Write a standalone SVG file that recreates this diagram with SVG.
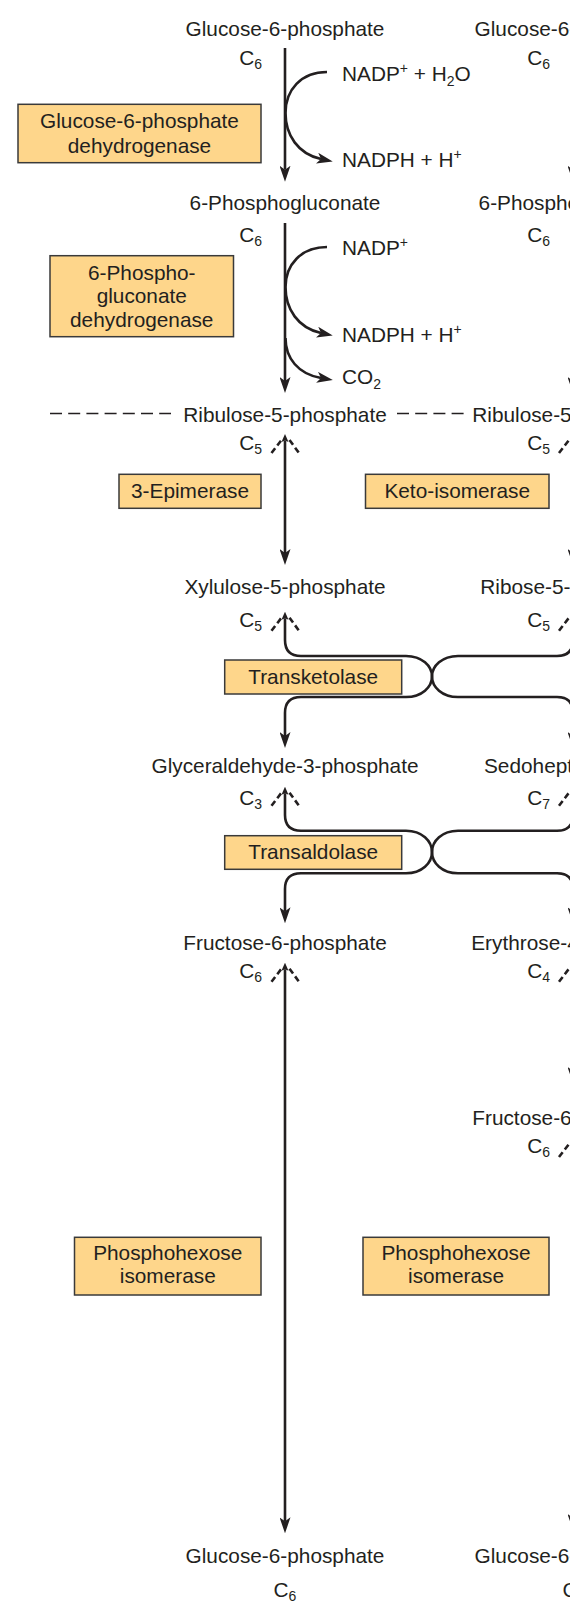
<svg xmlns="http://www.w3.org/2000/svg" width="570" height="1621" viewBox="0 0 570 1621">
<style>
.t{font-family:"Liberation Sans",Arial,Helvetica,sans-serif;font-size:20.8px;fill:#231f20}
.m{text-anchor:middle}
.e{text-anchor:end}
.s{font-size:14px}
.box{fill:#fed68b;stroke:#3a3a3a;stroke-width:1.5}
.ln{fill:none;stroke:#231f20;stroke-width:2.6}
.dsh{fill:none;stroke:#231f20;stroke-width:2.6;stroke-dasharray:6 3.5}
.dl{fill:none;stroke:#231f20;stroke-width:1.4;stroke-dasharray:12 6.2}
</style>
<defs>
<marker id="ah" viewBox="0 0 16 11" markerWidth="16" markerHeight="11" refX="4" refY="5.5" orient="auto" markerUnits="userSpaceOnUse">
<path d="M0,0 L16,5.5 L0,11 L4,5.5 Z" fill="#231f20"/>
</marker>
<marker id="as" viewBox="0 0 8 7" markerWidth="8" markerHeight="7" refX="1.5" refY="3.5" orient="auto-start-reverse" markerUnits="userSpaceOnUse">
<path d="M0,0 L8,3.5 L0,7 L1.5,3.5 Z" fill="#231f20"/>
</marker>
<g id="chev"><path class="dsh" d="M-14,19 L-4,6 M4,6 L13.5,19"/></g>
</defs>

<g id="connectors">
<path class="ln" d="M285,48 V169.7" marker-end="url(#ah)"/>
<path class="ln" d="M327,72 C301,72 285.5,90 285.5,113 C285.5,135 298,154 321,159" marker-end="url(#ah)"/>
<path class="ln" d="M285,223 V381" marker-end="url(#ah)"/>
<path class="ln" d="M327,247 C301,247 285.5,265 285.5,287 C285.5,309 298,328 321,333" marker-end="url(#ah)"/>
<path class="ln" d="M285.5,338 C285.5,358 298,374 321,378" marker-end="url(#ah)"/>
<path class="ln" d="M285,440.5 V553" marker-start="url(#as)" marker-end="url(#ah)"/>
<path class="ln" d="M285,618.2 V640 Q285,656 301,656 H406 C422,656 432,666 432,676.5 C432,687 422,697 406,697 H301 Q285,697 285,713 V736" marker-start="url(#as)" marker-end="url(#ah)"/>
<path class="ln" d="M285,793.2 V815 Q285,830.7 301,830.7 H406 C422,830.7 432,841 432,852 C432,863 422,873.3 406,873.3 H301 Q285,873.3 285,889 V911.3" marker-start="url(#as)" marker-end="url(#ah)"/>
<path class="ln" d="M285,969.2 V1521.3" marker-start="url(#as)" marker-end="url(#ah)"/>
<use href="#chev" x="285.5" y="434"/>
<use href="#chev" x="285.5" y="611.7"/>
<use href="#chev" x="285.5" y="786.7"/>
<use href="#chev" x="285.5" y="962.7"/>
<path class="dl" d="M50,413.5 H171"/>
<path class="dl" d="M397,413.5 H464"/>
<path class="ln" d="M573,48 V169.7" marker-end="url(#ah)"/>
<path class="ln" d="M573,223 V381" marker-end="url(#ah)"/>
<path class="ln" d="M573,440.5 V553" marker-start="url(#as)" marker-end="url(#ah)"/>
<path class="ln" d="M573,618.2 V640 Q573,656 557,656 H458 C442,656 432,666 432,676.5 C432,687 442,697 458,697 H557 Q573,697 573,713 V736" marker-start="url(#as)" marker-end="url(#ah)"/>
<path class="ln" d="M573,793.2 V815 Q573,830.7 557,830.7 H458 C442,830.7 432,841 432,852 C432,863 442,873.3 458,873.3 H557 Q573,873.3 573,889 V911.3" marker-start="url(#as)" marker-end="url(#ah)"/>
<path class="ln" d="M573,969.2 V1071" marker-start="url(#as)" marker-end="url(#ah)"/>
<path class="ln" d="M573,1144.5 V1518" marker-start="url(#as)" marker-end="url(#ah)"/>
<use href="#chev" x="573" y="434"/>
<use href="#chev" x="573" y="611.7"/>
<use href="#chev" x="573" y="786.7"/>
<use href="#chev" x="573" y="962.7"/>
<use href="#chev" x="573" y="1138"/>
</g>

<g id="g6p-top">
<text class="t m" x="285" y="36">Glucose-6-phosphate</text>
<text class="t e" x="262" y="65">C<tspan class="s" dy="4">6</tspan></text>
</g>
<g id="cofactors-1">
<text class="t" x="342" y="81">NADP<tspan class="s" dy="-8">+</tspan><tspan dy="8"> + H</tspan><tspan class="s" dy="5">2</tspan><tspan dy="-5">O</tspan></text>
<text class="t" x="342" y="167">NADPH + H<tspan class="s" dy="-8">+</tspan></text>
</g>
<g id="enz-g6pdh">
<rect class="box" x="18" y="104.3" width="243" height="58.4"/>
<text class="t m" x="139.5" y="128.3">Glucose-6-phosphate</text>
<text class="t m" x="139.5" y="152.7">dehydrogenase</text>
</g>
<g id="6pg">
<text class="t m" x="285" y="210">6-Phosphogluconate</text>
<text class="t e" x="262" y="241.7">C<tspan class="s" dy="4">6</tspan></text>
</g>
<g id="cofactors-2">
<text class="t" x="342" y="255">NADP<tspan class="s" dy="-8">+</tspan></text>
<text class="t" x="342" y="342">NADPH + H<tspan class="s" dy="-8">+</tspan></text>
<text class="t" x="342" y="384">CO<tspan class="s" dy="5">2</tspan></text>
</g>
<g id="enz-6pgdh">
<rect class="box" x="50" y="255.7" width="183.5" height="81"/>
<text class="t m" x="141.75" y="280">6-Phospho-</text>
<text class="t m" x="141.75" y="303.3">gluconate</text>
<text class="t m" x="141.75" y="326.7">dehydrogenase</text>
</g>
<g id="ru5p">
<text class="t m" x="285" y="421.7">Ribulose-5-phosphate</text>
<text class="t e" x="262" y="450">C<tspan class="s" dy="4">5</tspan></text>
</g>
<g id="enz-epimerase">
<rect class="box" x="119" y="474.3" width="142" height="34"/>
<text class="t m" x="190" y="497.5">3-Epimerase</text>
</g>
<g id="enz-keto">
<rect class="box" x="365.5" y="474.3" width="183.5" height="34"/>
<text class="t m" x="457.25" y="497.5">Keto-isomerase</text>
</g>
<g id="xu5p">
<text class="t m" x="285" y="594">Xylulose-5-phosphate</text>
<text class="t e" x="262" y="626.7">C<tspan class="s" dy="4">5</tspan></text>
</g>
<g id="enz-transketolase">
<rect class="box" x="224.7" y="660" width="177" height="34"/>
<text class="t m" x="313.2" y="683.5">Transketolase</text>
</g>
<g id="g3p">
<text class="t m" x="285" y="772.7">Glyceraldehyde-3-phosphate</text>
<text class="t e" x="262" y="805">C<tspan class="s" dy="4">3</tspan></text>
</g>
<g id="enz-transaldolase">
<rect class="box" x="224.7" y="835.7" width="177" height="33.6"/>
<text class="t m" x="313.2" y="859">Transaldolase</text>
</g>
<g id="f6p">
<text class="t m" x="285" y="950">Fructose-6-phosphate</text>
<text class="t e" x="262" y="978">C<tspan class="s" dy="4">6</tspan></text>
</g>
<g id="enz-phi-left">
<rect class="box" x="74.5" y="1237.3" width="186.5" height="57.7"/>
<text class="t m" x="167.75" y="1260">Phosphohexose</text>
<text class="t m" x="167.75" y="1283.3">isomerase</text>
</g>
<g id="enz-phi-right">
<rect class="box" x="363" y="1237.3" width="186" height="57.7"/>
<text class="t m" x="456" y="1260">Phosphohexose</text>
<text class="t m" x="456" y="1283.3">isomerase</text>
</g>
<g id="g6p-bottom">
<text class="t m" x="285" y="1562.7">Glucose-6-phosphate</text>
<text class="t m" x="285" y="1596.7">C<tspan class="s" dy="4">6</tspan></text>
</g>

<g id="right-column">
<text class="t m" x="574" y="36">Glucose-6-phosphate</text>
<text class="t e" x="550" y="65">C<tspan class="s" dy="4">6</tspan></text>
<text class="t m" x="574" y="210">6-Phosphogluconate</text>
<text class="t e" x="550" y="241.7">C<tspan class="s" dy="4">6</tspan></text>
<text class="t m" x="574" y="421.7">Ribulose-5-phosphate</text>
<text class="t e" x="550" y="450">C<tspan class="s" dy="4">5</tspan></text>
<text class="t m" x="574" y="594">Ribose-5-phosphate</text>
<text class="t e" x="550" y="626.7">C<tspan class="s" dy="4">5</tspan></text>
<text class="t" x="484" y="772.7">Sedoheptulose-7-phosphate</text>
<text class="t e" x="550" y="805">C<tspan class="s" dy="4">7</tspan></text>
<text class="t m" x="577" y="950">Erythrose-4-phosphate</text>
<text class="t e" x="550" y="978">C<tspan class="s" dy="4">4</tspan></text>
<text class="t m" x="574" y="1125">Fructose-6-phosphate</text>
<text class="t e" x="550" y="1153">C<tspan class="s" dy="4">6</tspan></text>
<text class="t m" x="574" y="1562.7">Glucose-6-phosphate</text>
<text class="t m" x="574" y="1596.7">C<tspan class="s" dy="4">6</tspan></text>
</g>
</svg>
